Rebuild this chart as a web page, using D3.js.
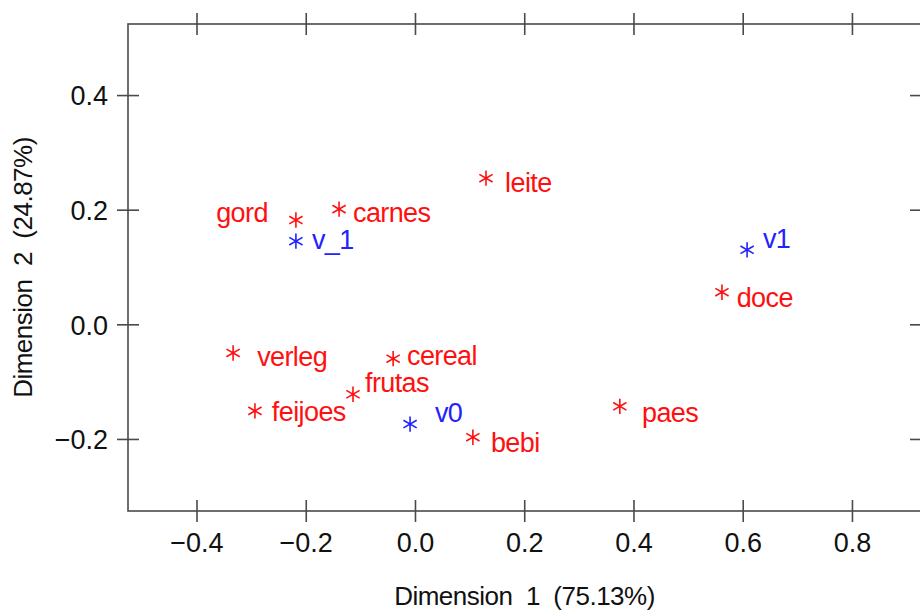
<!DOCTYPE html>
<html>
<head>
<meta charset="utf-8">
<script src="https://cdn.jsdelivr.net/npm/d3@7"></script>
<style>
  body { margin: 0; background: #fff; }
  text { font-family: "Liberation Sans", Arial, sans-serif; }
</style>
</head>
<body>
<div id="chart"></div>
<script>
// categories (row + column profiles)
var names = ["gord", "carnes", "v_1", "leite", "v1", "doce", "verleg", "cereal", "frutas", "feijoes", "v0", "bebi", "paes"];
var group = ["row", "row", "col", "row", "col", "row", "row", "row", "row", "row", "col", "row", "row"];
// coordinates
var dim1 = [-0.218, -0.139, -0.218, 0.130, 0.608, 0.562, -0.333, -0.040, -0.1135, -0.293, -0.009, 0.106, 0.375];
var dim2 = [0.182, 0.201, 0.145, 0.255, 0.130, 0.056, -0.050, -0.060, -0.122, -0.151, -0.174, -0.197, -0.143];
// where the label text starts (data units, baseline)
var labDim1 = [-0.364, -0.1135, -0.1886, 0.165, 0.637, 0.589, -0.289, -0.0146, -0.0915, -0.262, 0.0366, 0.139, 0.4156];
var labDim2 = [0.178, 0.178, 0.131, 0.231, 0.133, 0.030, -0.073, -0.071, -0.118, -0.169, -0.170, -0.223, -0.170];
// tick values
var xTicks = [-0.4, -0.2, 0.0, 0.2, 0.4, 0.6, 0.8];
var yTicks = [-0.2, 0.0, 0.2, 0.4];
var xTitle = "Dimension  1  (75.13%)";
var yTitle = "Dimension  2  (24.87%)";

var svgWidth = 920;
var svgHeight = 613;
var margin = { top: 24, right: -1, bottom: 102, left: 128 };
var width = svgWidth - margin.left - margin.right;
var height = svgHeight - margin.top - margin.bottom;

var svg = d3.select("#chart")
  .append("svg")
  .attr("width", svgWidth)
  .attr("height", svgHeight);

var chartGroup = svg.append("g")
  .attr("transform", `translate(${margin.left}, ${margin.top})`);

var x = d3.scaleLinear().domain([-0.5254, 0.9264]).range([0, width]);
var y = d3.scaleLinear().domain([-0.3257, 0.524]).range([height, 0]);
var fmt = d3.format(".1f");
var tk = 11;
var axisColor = "#4a4a4a";

// frame
chartGroup.append("rect")
  .attr("width", width)
  .attr("height", height)
  .attr("fill", "none")
  .attr("stroke", axisColor)
  .attr("stroke-width", 1.6);

// ticks cross the frame, so shift each axis by the tick length
var axB = chartGroup.append("g")
  .attr("transform", `translate(0,${height - tk})`)
  .call(d3.axisBottom(x).tickValues(xTicks).tickFormat(fmt).tickSizeInner(tk * 2).tickSizeOuter(0));
axB.selectAll("text").attr("y", 52).attr("dy", null);

var axT = chartGroup.append("g")
  .attr("transform", `translate(0,${tk})`)
  .call(d3.axisTop(x).tickValues(xTicks).tickFormat("").tickSizeInner(tk * 2).tickSizeOuter(0));

var axL = chartGroup.append("g")
  .attr("transform", `translate(${tk},0)`)
  .call(d3.axisLeft(y).tickValues(yTicks).tickFormat(fmt).tickSizeInner(tk * 2).tickSizeOuter(0).tickPadding(9));
axL.selectAll("text").attr("dy", "0.36em");

var axR = chartGroup.append("g")
  .attr("transform", `translate(${width - tk},0)`)
  .call(d3.axisRight(y).tickValues(yTicks).tickFormat("").tickSizeInner(tk * 2).tickSizeOuter(0));

[axB, axT, axL, axR].forEach(function(g) {
  g.select(".domain").remove();
  g.selectAll("line").attr("stroke", axisColor).attr("stroke-width", 1.6);
  g.selectAll("text")
    .attr("fill", "#111")
    .attr("font-size", 27)
    .attr("font-family", "Liberation Sans, Arial, sans-serif");
});

// points
var points = names.map(function(n, i) {
  return { name: n, group: group[i], d1: dim1[i], d2: dim2[i], l1: labDim1[i], l2: labDim2[i] };
});
var color = d3.scaleOrdinal().domain(["row", "col"]).range(["#ff1010", "#2222ff"]);

chartGroup.selectAll("path.pt")
  .data(points)
  .enter()
  .append("path")
  .attr("class", "pt")
  .attr("d", d3.symbol().type(d3.symbolAsterisk).size(165))
  .attr("transform", d => `translate(${x(d.d1)},${y(d.d2)})`)
  .attr("fill", "none")
  .attr("stroke", d => color(d.group))
  .attr("stroke-width", 1.6);

chartGroup.selectAll("text.lab")
  .data(points)
  .enter()
  .append("text")
  .attr("class", "lab")
  .attr("x", d => x(d.l1))
  .attr("y", d => y(d.l2))
  .attr("font-size", 27)
  .attr("letter-spacing", -0.6)
  .attr("fill", d => color(d.group))
  .text(d => d.name);

// axis titles
chartGroup.append("text")
  .attr("x", width / 2)
  .attr("y", height + 94)
  .attr("text-anchor", "middle")
  .attr("font-size", 26)
  .attr("letter-spacing", -0.5)
  .attr("fill", "#111")
  .style("white-space", "pre")
  .text(xTitle);

chartGroup.append("text")
  .attr("transform", `translate(${32 - margin.left},${height / 2}) rotate(-90)`)
  .attr("text-anchor", "middle")
  .attr("font-size", 26)
  .attr("letter-spacing", -0.5)
  .attr("fill", "#111")
  .style("white-space", "pre")
  .text(yTitle);
</script>
</body>
</html>
